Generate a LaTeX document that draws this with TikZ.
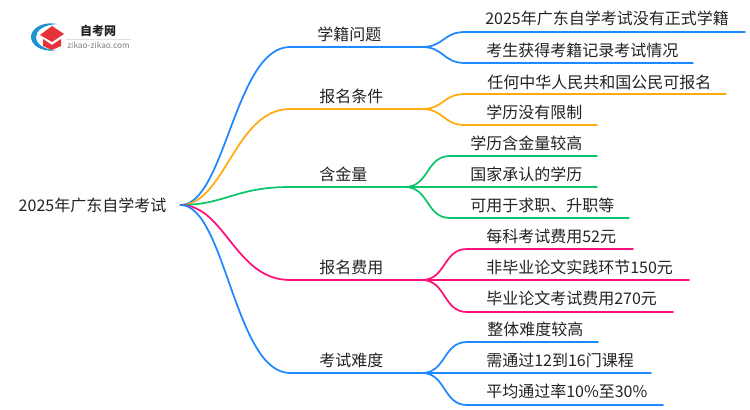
\documentclass[tikz,border=0pt]{standalone}
\usepackage{xcolor}
\usepackage{fontspec}
\setmainfont{Noto Sans CJK SC}
\usetikzlibrary{positioning}
\definecolor{xblue}{HTML}{1E88FF}
\definecolor{xorange}{HTML}{FFAA0F}
\definecolor{xgreen}{HTML}{0CC46C}
\definecolor{xpink}{HTML}{FF0F78}
\definecolor{xtext}{HTML}{222222}
\definecolor{xred}{HTML}{E8323A}
\definecolor{xlogo}{HTML}{1C93D0}
\newcommand{\fs}{\fontsize{12}{14}\selectfont}
\tikzset{
    lbl/.style={anchor=west, inner sep=0pt, text=xtext, font=\fs},
    trunk/.style={line width=1.3pt, line cap=round},
    twig/.style={line width=1.3pt, line cap=round},
}

\begin{document}
\begin{tikzpicture}[x=0.75pt, y=-0.75pt]
    \useasboundingbox (0,0) rectangle (750,410);

    %Logo
    \fill[xlogo] (57,24) .. controls (40,21) and (31,30) .. (31,37) .. controls (31,44) and (40,53) .. (57,50) .. controls (44,50) and (36,44) .. (36,37) .. controls (36,30) and (44,25) .. (57,24) -- cycle;
    \fill[xred] (40,35) -- (52,26) -- (64,34) -- (52,42) -- cycle;
    \fill[xred] (43,39) -- (52,45) -- (61,39) -- (61,46) -- (52,50) -- (43,46) -- cycle;
    \draw[gray!25, line width=0.4pt] (66,39) -- (131,39);
    \node[inner sep=0pt, text=xtext, font=\fontsize{9}{10}\selectfont\bfseries] at (98,31) (logoname) {自考网};
    \node[inner sep=0pt, text=gray, font=\fontsize{6.2}{7}\selectfont] at (98.5,45) (logourl) {zikao-zikao.com};

    %Nodes
    \node[text=xtext, font=\fs, inner ysep=0pt, inner xsep=10.5pt] at (92.5,205) (root) {2025年广东自学考试};

    \node[lbl] at (317,34) (xueji) {学籍问题};
    \node[lbl] at (319,96) (tiaojian) {报名条件};
    \node[lbl] at (319,174) (hanjin) {含金量};
    \node[lbl] at (319,267) (feiyong) {报名费用};
    \node[lbl] at (319,360) (nandu) {考试难度};

    \node[lbl] at (485,18) (xa) {2025年广东自学考试没有正式学籍};
    \node[lbl] at (486,50) (xb) {考生获得考籍记录考试情况};
    \node[lbl] at (487,82) (ta) {任何中华人民共和国公民可报名};
    \node[lbl] at (486,112) (tb) {学历没有限制};
    \node[lbl] at (470,143) (ha) {学历含金量较高};
    \node[lbl] at (470,174) (hb) {国家承认的学历};
    \node[lbl] at (470,205) (hc) {可用于求职、升职等};
    \node[lbl] at (486,236) (fa) {每科考试费用52元};
    \node[lbl] at (486,267) (fb) {非毕业论文实践环节150元};
    \node[lbl] at (486,298) (fc) {毕业论文考试费用270元};
    \node[lbl] at (487,329) (na) {整体难度较高};
    \node[lbl] at (486,360) (nb) {需通过12到16门课程};
    \node[lbl] at (486,391) (nc) {平均通过率10\%至30\%};

    %Points
    \coordinate (x0) at (290,47);    \coordinate (x1) at (422,47);
    \coordinate (t0) at (290,109);   \coordinate (t1) at (422,109);
    \coordinate (h0) at (290,187);   \coordinate (h1) at (405,187);
    \coordinate (f0) at (290,280);   \coordinate (f1) at (422,280);
    \coordinate (n0) at (290,373);   \coordinate (n1) at (422,373);

    %Lines
    \draw[trunk, xblue] (root.east) .. controls (225,205) and (235,47) .. (x0) -- (x1);
    \draw[trunk, xorange] (root.east) .. controls (225,205) and (235,109) .. (t0) -- (t1);
    \draw[trunk, xgreen] (root.east) .. controls (225,205) and (235,187) .. (h0) -- (h1);
    \draw[trunk, xpink] (root.east) .. controls (225,205) and (235,280) .. (f0) -- (f1);
    \draw[trunk, xblue] (root.east) .. controls (225,205) and (235,373) .. (n0) -- (n1);

    \draw[twig, xblue] (x1) .. controls +(22,0) and +(-22,0) .. (465,32) -- (745,32);
    \draw[twig, xblue] (x1) .. controls +(22,0) and +(-22,0) .. (465,63) -- (693,63);
    \draw[twig, xorange] (t1) .. controls +(22,0) and +(-22,0) .. (465,94) -- (726,94);
    \draw[twig, xorange] (t1) .. controls +(22,0) and +(-22,0) .. (465,125) -- (597,125);
    \draw[twig, xgreen] (h1) .. controls +(24,0) and +(-24,0) .. (450,156) -- (597,156);
    \draw[twig, xgreen] (h1) -- (597,187);
    \draw[twig, xgreen] (h1) .. controls +(24,0) and +(-24,0) .. (450,218) -- (629,218);
    \draw[twig, xpink] (f1) .. controls +(24,0) and +(-24,0) .. (467,249) -- (633,249);
    \draw[twig, xpink] (f1) -- (689,280);
    \draw[twig, xpink] (f1) .. controls +(24,0) and +(-24,0) .. (467,312) -- (673,312);
    \draw[twig, xblue] (n1) .. controls +(24,0) and +(-24,0) .. (467,342) -- (598,342);
    \draw[twig, xblue] (n1) -- (651,373);
    \draw[twig, xblue] (n1) .. controls +(24,0) and +(-24,0) .. (467,405) -- (663,405);
\end{tikzpicture}
\end{document}
